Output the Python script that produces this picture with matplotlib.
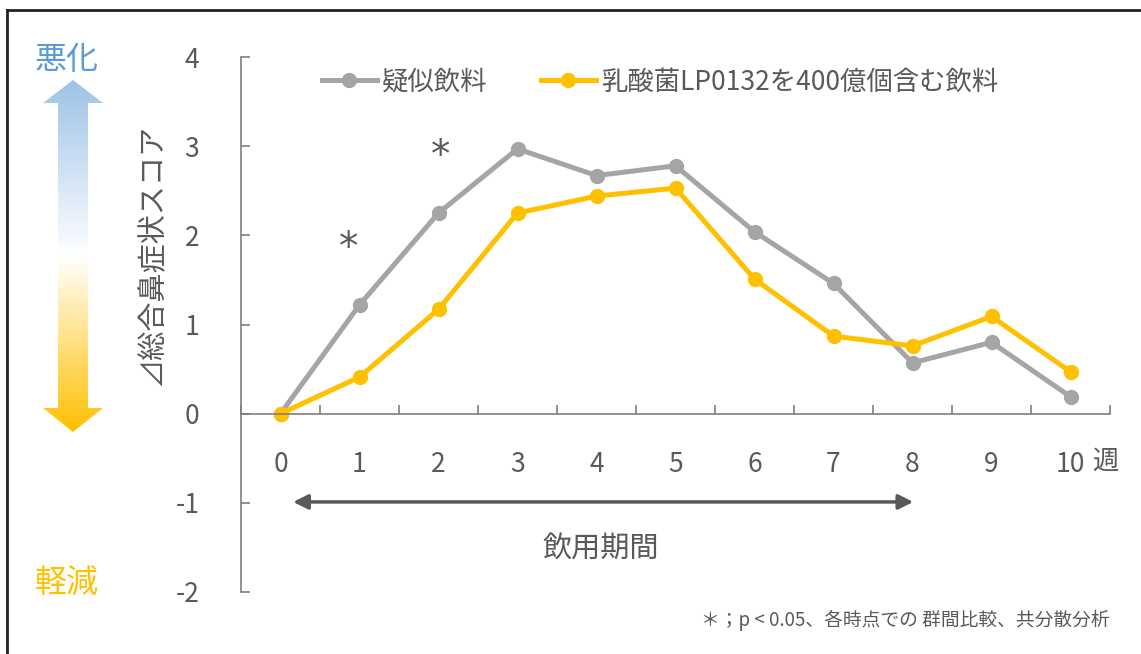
import matplotlib.pyplot as plt
import numpy as np
from matplotlib.colors import LinearSegmentedColormap
from matplotlib.patches import Polygon

plt.rcParams['font.family'] = ['Noto Sans CJK JP', 'DejaVu Sans']

output = "out.png"
txt = '#595959'

weeks = [0, 1, 2, 3, 4, 5, 6, 7, 8, 9, 10]
placebo = [0, 1.22, 2.25, 2.97, 2.67, 2.78, 2.04, 1.46, 0.57, 0.80, 0.19]
lp0132 = [0, 0.41, 1.17, 2.25, 2.44, 2.53, 1.51, 0.87, 0.76, 1.09, 0.47]
labels = ['疑似飲料', '乳酸菌LP0132を400億個含む飲料']
yticks = [-2, -1, 0, 1, 2, 3, 4]

W, H = 1141, 654
fig = plt.figure(figsize=(W / 100, H / 100), dpi=100)

ax = fig.add_axes([241 / W, 1 - 592 / H, (1110 - 241) / W, (592 - 57) / H])
l1, = ax.plot(weeks, placebo, '-o', color='#A5A5A5', lw=3.6, ms=10, label=labels[0])
l2, = ax.plot(weeks, lp0132, '-o', color='#FFC000', lw=3.6, ms=10, label=labels[1])

ax.set_xlim(-0.5, 10.5)
ax.set_ylim(-2, 4)
ax.spines['top'].set_visible(False)
ax.spines['right'].set_visible(False)
ax.spines['bottom'].set_position(('data', 0))
for s in ['left', 'bottom']:
    ax.spines[s].set_color('#7F7F7F')
    ax.spines[s].set_linewidth(1.2)

ax.set_yticks(yticks)
ax.set_yticklabels([str(v) for v in yticks])
ax.tick_params(axis='y', direction='in', length=6.5, width=1.2, color='#7F7F7F',
               pad=30, labelsize=19, labelcolor=txt)

ax.set_xticks(np.arange(-0.5, 11, 1))
ax.set_xticklabels([])
ax.set_xticks(weeks, minor=True)
ax.set_xticklabels([str(w) for w in weeks], minor=True)
ax.tick_params(axis='x', which='major', direction='in', length=6.5, width=1.2, color='#7F7F7F')
ax.tick_params(axis='x', which='minor', length=0, pad=27, labelsize=19, labelcolor=txt)

ax.text(10.27, -0.53, '週', fontsize=19, color=txt, ha='left', va='center')

# significance marks
ax.text(0.86, 1.86, '*', fontsize=28, color=txt, ha='center', va='center', family='DejaVu Sans')
ax.text(2.03, 2.89, '*', fontsize=28, color=txt, ha='center', va='center', family='DejaVu Sans')

# intake period arrow
ax.annotate('', xy=(0.16, -0.99), xytext=(8.01, -0.99),
            arrowprops=dict(arrowstyle='<|-|>', color=txt, lw=2.5, mutation_scale=22,
                            shrinkA=0, shrinkB=0))
ax.text(4.05, -1.52, '飲用期間', fontsize=21, color=txt, ha='center', va='center')

leg = fig.legend(handles=[l1, l2], loc='center left', bbox_to_anchor=(298 / W, 1 - 82 / H),
                 ncol=2, frameon=False, handlelength=2.1, handletextpad=0.2,
                 columnspacing=2.0, labelcolor=txt, fontsize=19)

ax.set_ylabel('⊿総合鼻症状スコア', fontsize=21, color=txt)
ax.yaxis.set_label_coords(-(241 - 168) / (1110 - 241), 0.63)

# gradient arrow on the left
aax = fig.add_axes([43 / W, 1 - 432 / H, 60 / W, 352 / H])
aax.set_xlim(0, 60)
aax.set_ylim(0, 352)
aax.axis('off')
cmap = LinearSegmentedColormap.from_list('g', [(0, '#FFC000'), (0.5, '#FFFFFF'), (1, '#9DC3E6')])
grad = np.linspace(0, 1, 256).reshape(-1, 1)
im = aax.imshow(grad, cmap=cmap, origin='lower', extent=[0, 60, 0, 352], aspect='auto')
pts = [(30, 352), (60, 329), (45, 329), (45, 24), (60, 24), (30, 0),
       (0, 24), (15, 24), (15, 329), (0, 329)]
poly = Polygon(pts, closed=True, facecolor='none', edgecolor='none')
aax.add_patch(poly)
im.set_clip_path(poly)

fig.text(67 / W, 1 - 60 / H, '悪化', fontsize=23, color='#5B9BD5', ha='center', va='center')
fig.text(67 / W, 1 - 584 / H, '軽減', fontsize=23, color='#FFC000', ha='center', va='center')

fig.text(1110 / W, 1 - 620 / H, '＊；p < 0.05、各時点での 群間比較、共分散分析',
         fontsize=13.5, color=txt, ha='right', va='center')

# frame lines (top and left)
fig.add_artist(plt.Line2D([7 / W, 1], [1 - 10 / H, 1 - 10 / H], color='#222222', lw=2))
fig.add_artist(plt.Line2D([7 / W, 7 / W], [0, 1 - 10 / H], color='#222222', lw=2))

plt.savefig(output, dpi=100)
plt.close()
